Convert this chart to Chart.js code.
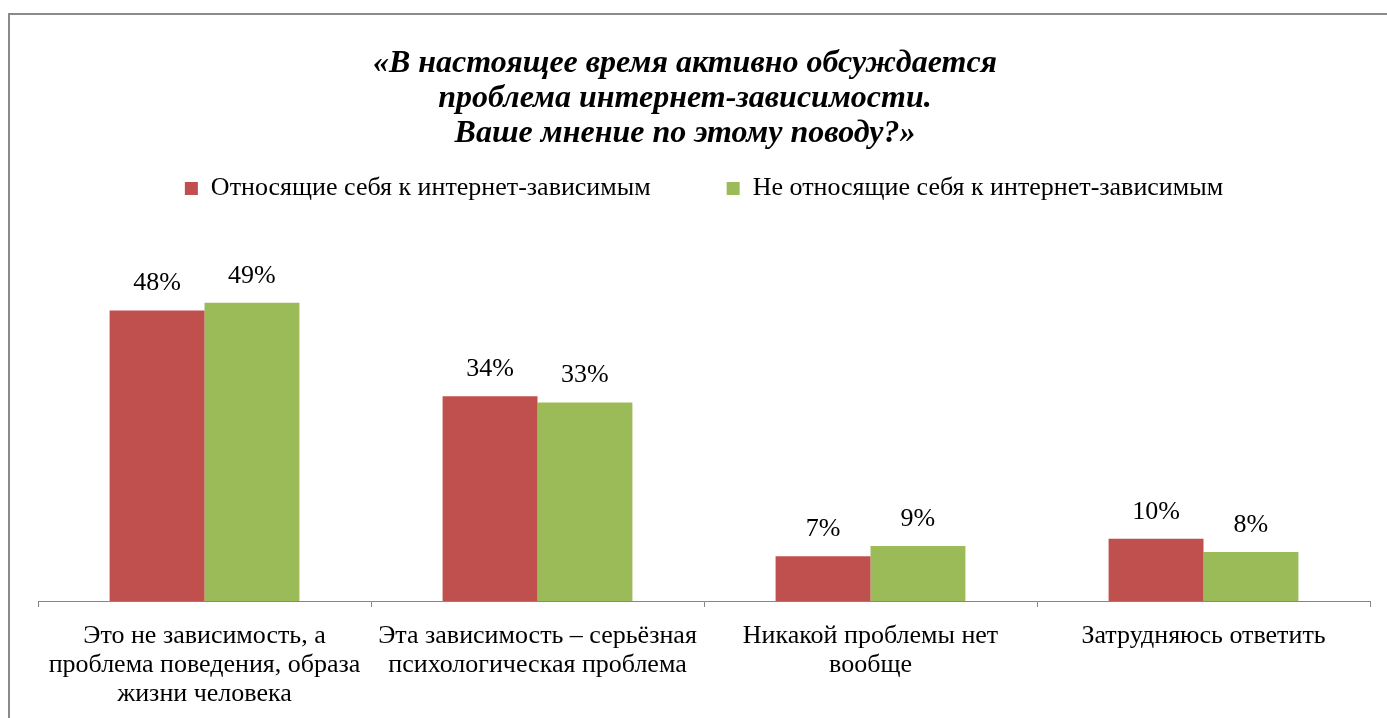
<!DOCTYPE html>
<html>
<head>
<meta charset="utf-8">
<script src="https://cdn.jsdelivr.net/npm/chart.js@4.4.0/dist/chart.umd.min.js"></script>
<style>
  html, body { margin: 0; padding: 0; background: #fff; overflow: hidden; }
  #frame { position: absolute; left: 8px; top: 13px; width: 1400px; height: 800px; border: 2px solid #8a8a8a; }
  #wrap { position: absolute; left: 0; top: 0; width: 1387px; height: 718px; }
</style>
</head>
<body>
<div id="frame"></div>
<div id="wrap"><canvas id="chart"></canvas></div>
<script>
const categories = [
    ['Это не зависимость, а', 'проблема поведения, образа', 'жизни человека'],
    ['Эта зависимость – серьёзная', 'психологическая проблема'],
    ['Никакой проблемы нет', 'вообще'],
    ['Затрудняюсь ответить']
];
const seriesNames = ['Относящие себя к интернет-зависимым', 'Не относящие себя к интернет-зависимым'];
const addicted = [48.1, 33.9, 7.4, 10.3];
const notAddicted = [49.4, 32.9, 9.1, 8.1];
const valueLabels = [['48%', '34%', '7%', '10%'], ['49%', '33%', '9%', '8%']];
const titleLines = ['«В настоящее время активно обсуждается', 'проблема интернет-зависимости.', 'Ваше мнение по этому поводу?»'];

const serif = "'Liberation Serif', 'Times New Roman', serif";

// percent labels over each bar
const valueLabelPlugin = {
    id: 'valueLabels',
    afterDatasetsDraw(chart) {
        const ctx = chart.ctx;
        ctx.save();
        ctx.font = '26px ' + serif;
        ctx.fillStyle = '#000';
        ctx.textAlign = 'center';
        ctx.textBaseline = 'middle';
        chart.data.datasets.forEach((ds, i) => {
            chart.getDatasetMeta(i).data.forEach((bar, j) => {
                ctx.fillText(valueLabels[i][j], bar.x, bar.y - 27);
            });
        });
        ctx.restore();
    }
};

new Chart(document.getElementById('chart'), {
    type: 'bar',
    data: {
        labels: categories,
        datasets: [{
            label: seriesNames[0] + '        ', // extra gap before the next legend item
            data: addicted,
            backgroundColor: '#C0504D',
            categoryPercentage: 0.57,
            barPercentage: 1
        }, {
            label: seriesNames[1],
            data: notAddicted,
            backgroundColor: '#9BBB59',
            categoryPercentage: 0.57,
            barPercentage: 1
        }]
    },
    options: {
        responsive: true,
        maintainAspectRatio: false,
        animation: false,
        layout: { padding: { left: 0, right: 17, top: 46, bottom: 0 } },
        plugins: {
            title: {
                display: true,
                text: titleLines,
                color: '#000',
                font: { family: serif, size: 32, weight: 'bold', style: 'italic', lineHeight: 1.1 },
                padding: { top: 0, bottom: 0 }
            },
            legend: {
                fullSize: false,
                labels: {
                    color: '#000',
                    font: { family: serif, size: 26 },
                    boxWidth: 13,
                    boxHeight: 13,
                    padding: 24
                }
            },
            tooltip: { enabled: false }
        },
        scales: {
            x: {
                grid: { drawOnChartArea: false, drawTicks: true, tickLength: 6, color: '#868686' },
                border: { color: '#868686', width: 1 },
                ticks: { color: '#000', font: { family: serif, size: 26, lineHeight: 1.115 }, maxRotation: 0, autoSkip: false, padding: 15 },
                afterFit(scale) { scale.height = 117; }
            },
            y: {
                min: 0,
                max: 64.5,
                grid: { display: false },
                border: { display: false },
                ticks: { display: false },
                afterFit(scale) { scale.width = 38; }
            }
        }
    },
    plugins: [valueLabelPlugin]
});
</script>
</body>
</html>
